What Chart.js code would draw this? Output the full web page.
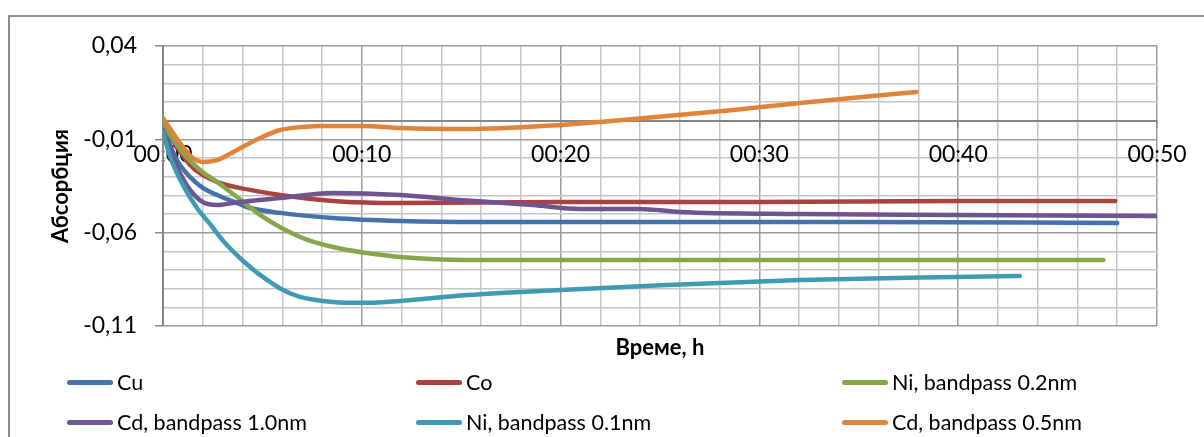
<!DOCTYPE html>
<html>
<head>
<meta charset="utf-8">
<script src="https://cdn.jsdelivr.net/npm/chart.js@4/dist/chart.umd.min.js"></script>
<style>
  html, body { margin: 0; padding: 0; background: #fff; }
  #wrap { position: relative; width: 1204px; height: 437px; overflow: hidden; background: #fff; }
  #frame { position: absolute; left: 8px; top: 15px; width: 1300px; height: 500px; border-left: 2px solid #8c8c8c; border-top: 2px solid #8c8c8c; box-sizing: border-box; }
  canvas { position: absolute; left: 0; top: 0; }
  .lg { position: absolute; height: 30px; display: flex; align-items: center; font-family: Lato, "Noto Sans", sans-serif; font-size: 21.5px; color: #000; white-space: nowrap; }
  .lg .ln { display: inline-block; width: 46px; height: 5px; border-radius: 3px; margin-right: 4px; }
</style>
</head>
<body>
<div id="wrap">
  <div id="frame"></div>
  <canvas id="c" width="1204" height="437"></canvas>
  <div id="legend"></div>
</div>
<script>
// ---- data (time in minutes, absorbance) ----
const seriesNames = ["Cu", "Co", "Ni, bandpass 0.2nm", "Cd, bandpass 1.0nm", "Ni, bandpass 0.1nm", "Cd, bandpass 0.5nm"];
const seriesColors = ["#4672ac", "#aa4340", "#87a64a", "#6f558f", "#3f9ab4", "#e0843a"];

const cuT = [0, 0.7, 1.36, 2.0, 2.72, 3.72, 4.38, 5.89, 8.55, 11.92, 16, 25, 35, 48];
const cuV = [-0.0039, -0.0211, -0.0302, -0.0360, -0.0398, -0.0441, -0.0468, -0.0494, -0.0521, -0.0537, -0.0543, -0.0543, -0.0543, -0.0548];

const coT = [0, 1.36, 2.72, 4.38, 5.89, 8.55, 11.92, 20, 30, 40, 47.9];
const coV = [-0.0023, -0.0237, -0.0328, -0.0371, -0.0398, -0.0430, -0.0441, -0.0436, -0.0436, -0.0430, -0.0430];

const ni2T = [0, 1.0, 1.86, 2.72, 3.72, 5.03, 6.89, 8.55, 10.26, 11.92, 15.3, 22, 30, 40, 47.3];
const ni2V = [-0.0023, -0.0173, -0.0264, -0.0328, -0.0409, -0.0516, -0.0623, -0.0677, -0.0709, -0.0730, -0.0746, -0.0746, -0.0746, -0.0746, -0.0746];

const cd1T = [0, 0.7, 1.36, 2.0, 2.72, 3.52, 4.38, 5.89, 8.55, 11.92, 15.3, 18.6, 21, 24, 26, 32, 40, 50];
const cd1V = [-0.0050, -0.0248, -0.0371, -0.0436, -0.0452, -0.0441, -0.0430, -0.0414, -0.0387, -0.0398, -0.0428, -0.0452, -0.0473, -0.0473, -0.0489, -0.0500, -0.0505, -0.0511];

const ni1T = [0, 0.35, 1.0, 1.71, 2.36, 3.12, 4.38, 5.23, 6.04, 6.89, 8.55, 10.26, 11.92, 15.3, 20, 25.35, 32.04, 39.9, 43.1];
const ni1V = [-0.0061, -0.0190, -0.0344, -0.0468, -0.0553, -0.0655, -0.0784, -0.0853, -0.0907, -0.0944, -0.0971, -0.0976, -0.0966, -0.0934, -0.0907, -0.0880, -0.0853, -0.0837, -0.0832];

const cd5T = [0, 1.0, 1.5, 2.0, 2.72, 3.72, 4.88, 5.89, 7.0, 8.05, 10.06, 11.92, 15.3, 20, 22, 25.35, 28.7, 32.04, 37.9];
const cd5V = [0.0014, -0.0141, -0.0200, -0.0221, -0.0211, -0.0157, -0.0093, -0.0050, -0.0034, -0.0028, -0.0028, -0.0039, -0.0045, -0.0023, -0.0007, 0.0025, 0.0057, 0.0095, 0.0154];

const xTickLabels = ["00:00", "00:10", "00:20", "00:30", "00:40", "00:50"];
const yTickLabels = ["0,04", "-0,01", "-0,06", "-0,11"];

const seriesT = [cuT, coT, ni2T, cd1T, ni1T, cd5T];
const seriesV = [cuV, coV, ni2V, cd1V, ni1V, cd5V];

// ---- build ----
const datasets = seriesNames.map((name, i) => ({
  label: name,
  data: seriesT[i].map((t, k) => ({ x: t, y: seriesV[i][k] })),
  borderColor: seriesColors[i],
  backgroundColor: seriesColors[i],
  borderWidth: 4.5,
  pointRadius: 0,
  cubicInterpolationMode: 'monotone',
  borderCapStyle: 'round',
  borderJoinStyle: 'round',
  fill: false,
  order: seriesNames.length - i
}));

const isMajorY = v => ((Math.round(v * 100) + 11) % 5) === 0;
const isMajorX = v => Math.round(v) % 10 === 0;
const tickFont = { family: 'Lato, "Noto Sans", sans-serif', size: 23 };
const titleFont = { family: 'Lato, "Noto Sans", sans-serif', size: 22, weight: 'bold' };

new Chart(document.getElementById('c'), {
  type: 'line',
  data: { datasets },
  options: {
    responsive: false,
    animation: false,
    layout: { padding: { left: 48, top: 46, right: 47, bottom: 76 } },
    plugins: { legend: { display: false }, tooltip: { enabled: false } },
    scales: {
      x: {
        type: 'linear', min: 0, max: 50,
        position: { y: 0 },
        grid: {
          color: c => isMajorX(c.tick.value) ? '#9a9a9a' : '#c6c6c6',
          lineWidth: 1.5,
          tickLength: 6,
          tickColor: c => isMajorX(c.tick.value) ? '#868686' : 'rgba(0,0,0,0)'
        },
        border: { display: true, color: '#868686', width: 2 },
        ticks: {
          stepSize: 2, autoSkip: false, maxRotation: 0, padding: 14,
          color: '#000', font: tickFont,
          callback: v => isMajorX(v) ? xTickLabels[Math.round(v) / 10] : ''
        }
      },
      x2: {
        type: 'linear', min: 0, max: 50, position: 'bottom',
        grid: { display: false, drawTicks: false },
        border: { display: false },
        ticks: { display: false },
        title: { display: true, text: 'Време, h', color: '#000', font: titleFont, padding: { top: 0, bottom: 0 } },
        afterFit: s => { s.height = 35; }
      },
      y: {
        type: 'linear', min: -0.11, max: 0.04,
        grid: {
          color: c => isMajorY(c.tick.value) ? '#9a9a9a' : '#c6c6c6',
          lineWidth: 1.5,
          tickLength: 8,
          tickColor: c => isMajorY(c.tick.value) ? '#868686' : 'rgba(0,0,0,0)'
        },
        border: { display: true, color: '#868686', width: 2 },
        ticks: {
          stepSize: 0.01, autoSkip: false, padding: 18,
          color: '#000', font: tickFont,
          callback: v => isMajorY(v) ? yTickLabels[(Math.round(v * 100) * -1 + 4) / 5] : ''
        },
        title: { display: true, text: 'Абсорбция', color: '#000', font: titleFont, padding: { top: 0, bottom: 0 } },
        afterFit: s => { s.width = 115; }
      }
    }
  }
});

// ---- legend (3 columns x 2 rows, like the original) ----
const legendCols = [67, 416, 842];
const legendRows = [382, 422];
const legendEl = document.getElementById('legend');
seriesNames.forEach((name, i) => {
  const d = document.createElement('div');
  d.className = 'lg';
  d.style.left = legendCols[i % 3] + 'px';
  d.style.top = (legendRows[Math.floor(i / 3)] - 15) + 'px';
  const ln = document.createElement('span');
  ln.className = 'ln';
  ln.style.background = seriesColors[i];
  const tx = document.createElement('span');
  tx.textContent = name;
  d.appendChild(ln); d.appendChild(tx);
  legendEl.appendChild(d);
});
</script>
</body>
</html>
